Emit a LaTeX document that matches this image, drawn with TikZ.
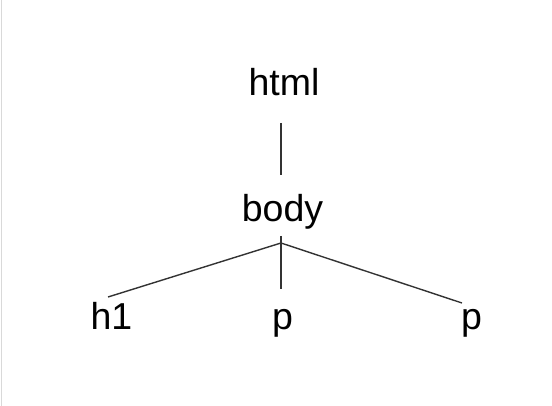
\documentclass[tikz,border=0pt]{standalone}
\usepackage{fontspec}
\setmainfont{Liberation Sans}

\begin{document}
\begin{tikzpicture}[x=1pt,y=-1pt,
  tag/.style={font=\fontsize{37.5}{40}\selectfont, inner sep=0pt, anchor=base},
  branch/.style={draw=black!80, line width=1.4pt}]
\useasboundingbox (0,0) rectangle (552,406);
\draw[black!15, line width=1pt] (1.5,0) -- (1.5,406);

% the tags
\node[tag] (html) at (284,96) {html};
\node[tag] (body) at (282.5,222) {body};
\node[tag] (h1) at (111.5,330) {h1};
\node[tag] (p1) at (282.5,330) {p};
\node[tag] (p2) at (471.5,330) {p};

% the branches
\coordinate (fork) at ([shift={(-1.5,21)}]body.base);
\draw[branch] ([shift={(-3,27)}]html.base) -- ([shift={(-1.5,-47)}]body.base);
\draw[branch] ([shift={(-1.5,14)}]body.base) -- ([shift={(-1.5,-41)}]p1.base);
\draw[branch] (fork) -- ([shift={(-3.5,-33)}]h1.base);
\draw[branch] (fork) -- ([shift={(-9.5,-27)}]p2.base);
\end{tikzpicture}
\end{document}
